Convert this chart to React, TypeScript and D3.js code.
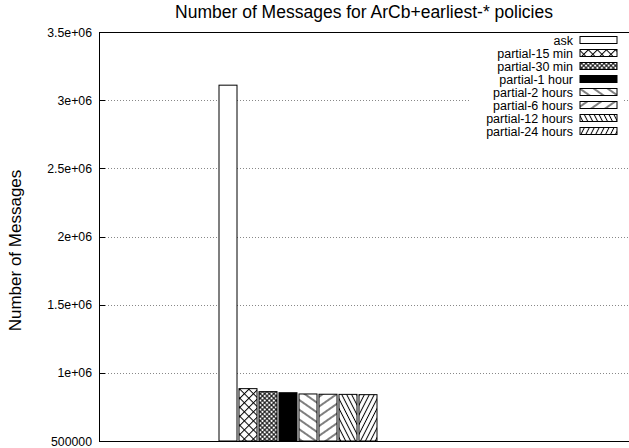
import React from "react";
import * as d3 from "d3";

const categories = [
  "ask",
  "partial-15 min",
  "partial-30 min",
  "partial-1 hour",
  "partial-2 hours",
  "partial-6 hours",
  "partial-12 hours",
  "partial-24 hours",
];
const values = [3110000, 884000, 862000, 854000, 845000, 843000, 842000, 840000];
const patterns = ["empty", "xhatch", "xhatchFine", "solid", "back", "fwd", "backFine", "fwdFine"];
const yTicks = [500000, 1000000, 1500000, 2000000, 2500000, 3000000, 3500000];
const yTickLabels = ["500000", "1e+06", "1.5e+06", "2e+06", "2.5e+06", "3e+06", "3.5e+06"];

const W = 629;
const H = 448;
const left = 99;
const right = 631;
const top = 32;
const bottom = 441;
const font = "'Liberation Sans', Arial, Helvetica, sans-serif";

function fillFor(p: string) {
  if (p === "empty") return "#fff";
  if (p === "solid") return "#000";
  return `url(#pat-${p})`;
}

function LinePattern({ id, angle, spacing }: { id: string; angle: number; spacing: number }) {
  return (
    <pattern
      id={id}
      patternUnits="userSpaceOnUse"
      width={10}
      height={spacing}
      patternTransform={`rotate(${angle})`}
    >
      <rect width={10} height={spacing} fill="#fff" />
      <line x1={0} y1={spacing / 2} x2={10} y2={spacing / 2} stroke="#000" strokeWidth={1} />
    </pattern>
  );
}

function CrossPattern({ id, spacing }: { id: string; spacing: number }) {
  return (
    <pattern
      id={id}
      patternUnits="userSpaceOnUse"
      width={spacing}
      height={spacing}
      patternTransform="rotate(45)"
    >
      <rect width={spacing} height={spacing} fill="#fff" />
      <line x1={0} y1={spacing / 2} x2={spacing} y2={spacing / 2} stroke="#000" strokeWidth={1} />
      <line x1={spacing / 2} y1={0} x2={spacing / 2} y2={spacing} stroke="#000" strokeWidth={1} />
    </pattern>
  );
}

export default function App() {
  const y = d3.scaleLinear().domain([500000, 3500000]).range([bottom, top]);
  const x = d3.scaleLinear().domain([-6, 20.6]).range([left, right]);
  const barW = x(0.9) - x(0);

  const legendRight = 573;
  const boxX = 580;
  const boxW = 37;
  const boxH = 7;
  const legendY0 = 40;
  const legendStep = 13;

  return (
    <svg
      width={W}
      height={H}
      style={{ position: "absolute", left: 0, top: 0, background: "#fff" }}
      fontFamily={font}
    >
      <defs>
        <CrossPattern id="pat-xhatch" spacing={6.4} />
        <CrossPattern id="pat-xhatchFine" spacing={3.2} />
        <LinePattern id="pat-back" angle={35} spacing={8} />
        <LinePattern id="pat-fwd" angle={-35} spacing={8} />
        <LinePattern id="pat-backFine" angle={63} spacing={4.4} />
        <LinePattern id="pat-fwdFine" angle={-63} spacing={4.4} />
      </defs>
      <rect x={0} y={0} width={W} height={H} fill="#fff" />

      {/* grid lines */}
      {yTicks.slice(1, -1).map((t) => (
        <line
          key={`g${t}`}
          x1={left}
          x2={right}
          y1={Math.round(y(t)) + 0.5}
          y2={Math.round(y(t)) + 0.5}
          stroke="#888"
          strokeWidth={1}
          strokeDasharray="1,2"
        />
      ))}

      {/* bars */}
      {values.map((v, i) => (
        <rect
          key={categories[i]}
          x={x(i)}
          y={y(v)}
          width={barW}
          height={bottom - y(v)}
          fill={fillFor(patterns[i])}
          stroke="#000"
          strokeWidth={1}
        />
      ))}

      {/* legend */}
      <rect x={470} y={33} width={152} height={106} fill="#fff" />
      {categories.map((c, i) => {
        const cy = legendY0 + i * legendStep;
        return (
          <g key={`l${c}`}>
            <text x={legendRight} y={cy + 4.5} textAnchor="end" fontSize={12.5}>
              {c}
            </text>
            <rect
              x={boxX}
              y={cy - boxH / 2}
              width={boxW}
              height={boxH}
              fill={fillFor(patterns[i])}
              stroke="#000"
              strokeWidth={1}
            />
          </g>
        );
      })}

      {/* frame */}
      <line x1={left + 0.5} x2={left + 0.5} y1={top} y2={bottom} stroke="#000" strokeWidth={1} />
      <line x1={left} x2={right} y1={top + 0.5} y2={top + 0.5} stroke="#000" strokeWidth={1} />
      <line x1={left} x2={right} y1={bottom + 0.5} y2={bottom + 0.5} stroke="#000" strokeWidth={1} />

      {/* ticks & labels */}
      {yTicks.map((t, i) => (
        <g key={`t${t}`}>
          <line
            x1={left}
            x2={left + 6}
            y1={Math.round(y(t)) + 0.5}
            y2={Math.round(y(t)) + 0.5}
            stroke="#000"
          />
          <text x={92} y={y(t) + 4.5} textAnchor="end" fontSize={12.3}>
            {yTickLabels[i]}
          </text>
        </g>
      ))}

      <text x={364} y={18} textAnchor="middle" fontSize={17.5}>
        Number of Messages for ArCb+earliest-* policies
      </text>
      <text
        transform={`translate(21, ${(top + bottom) / 2 + 14}) rotate(-90)`}
        textAnchor="middle"
        fontSize={17}
      >
        Number of Messages
      </text>
    </svg>
  );
}
